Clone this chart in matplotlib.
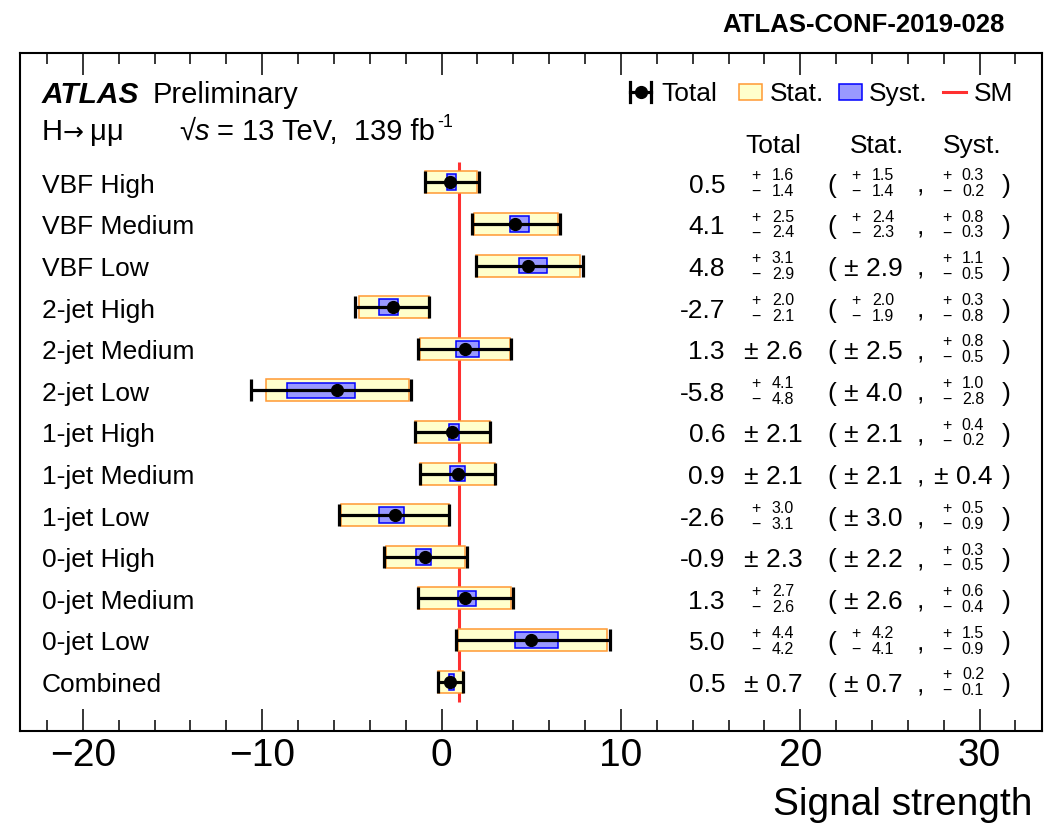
import matplotlib
matplotlib.use("Agg")
import matplotlib.pyplot as plt
from matplotlib.patches import Rectangle
from matplotlib.lines import Line2D
from matplotlib.ticker import MultipleLocator
from matplotlib.transforms import blended_transform_factory

plt.rcParams['font.family'] = ['Liberation Sans', 'DejaVu Sans']
plt.rcParams['mathtext.default'] = 'regular'

categories = ["VBF High", "VBF Medium", "VBF Low",
	"2-jet High", "2-jet Medium", "2-jet Low",
	"1-jet High", "1-jet Medium", "1-jet Low",
	"0-jet High", "0-jet Medium", "0-jet Low", "Combined"]
mu      = [0.5, 4.1, 4.8, -2.7, 1.3, -5.8, 0.6, 0.9, -2.6, -0.9, 1.3, 5.0, 0.5]
tot_up  = [1.6, 2.5, 3.1, 2.0, 2.6, 4.1, 2.1, 2.1, 3.0, 2.3, 2.7, 4.4, 0.7]
tot_dn  = [1.4, 2.4, 2.9, 2.1, 2.6, 4.8, 2.1, 2.1, 3.1, 2.3, 2.6, 4.2, 0.7]
stat_up = [1.5, 2.4, 2.9, 2.0, 2.5, 4.0, 2.1, 2.1, 3.0, 2.2, 2.6, 4.2, 0.7]
stat_dn = [1.4, 2.3, 2.9, 1.9, 2.5, 4.0, 2.1, 2.1, 3.0, 2.2, 2.6, 4.1, 0.7]
syst_up = [0.3, 0.8, 1.1, 0.3, 0.8, 1.0, 0.4, 0.4, 0.5, 0.3, 0.6, 1.5, 0.2]
syst_dn = [0.2, 0.3, 0.5, 0.8, 0.5, 2.8, 0.2, 0.4, 0.9, 0.5, 0.4, 0.9, 0.1]
sm_value = 1.0

W, H = 1044, 828
def fx(x): return x / W
def fy(y): return 1 - y / H

fig = plt.figure(figsize=(W/100, H/100), dpi=100)
ax = fig.add_axes([fx(20), fy(732), fx(1041.5) - fx(20), fy(54) - fy(732)])

rows = list(range(len(categories)))

# SM line behind everything
ax.vlines(sm_value, -0.5, 12.5, color='#ff3030', lw=2.2, zorder=0.5)

stat_left = [m - d for m, d in zip(mu, stat_dn)]
stat_w = [u + d for u, d in zip(stat_up, stat_dn)]
ax.barh(rows, stat_w, left=stat_left, height=0.53, color='#ffffcc',
	edgecolor='#ff9933', lw=1.1, zorder=1)
syst_left = [m - d for m, d in zip(mu, syst_dn)]
syst_w = [u + d for u, d in zip(syst_up, syst_dn)]
ax.barh(rows, syst_w, left=syst_left, height=0.377, color='#9999ff',
	edgecolor='#0000ff', lw=1.1, zorder=2)
ax.errorbar(mu, rows, xerr=[tot_dn, tot_up], fmt='o', color='k', ms=8.5,
	elinewidth=2.3, capsize=7.9, capthick=2.3, zorder=3)

ax.set_xlim(-23.5, 33.45)
ax.set_ylim(13.185, -3.108)
ax.set_yticks([])
ax.xaxis.set_major_locator(MultipleLocator(10))
ax.xaxis.set_minor_locator(MultipleLocator(2))
ax.tick_params(which='both', direction='in', top=True, bottom=True, width=1.1)
ax.tick_params(which='major', length=15.8, labelsize=28, pad=4)
ax.tick_params(which='minor', length=7.9)
for s in ax.spines.values():
	s.set_linewidth(1.5)

tr = blended_transform_factory(fig.transFigure, ax.transData)
big, small = 19, 11.5

def put_err(i, up, dn, center_x, sign_x, num_x):
	if up == dn:
		ax.text(fx(center_x), i + 0.225, "± %.1f" % up, transform=tr,
			fontsize=big, ha='center', va='baseline')
	else:
		ax.text(fx(sign_x), i - 0.08, "+", transform=tr, fontsize=small, ha='center', va='baseline')
		ax.text(fx(num_x), i - 0.08, "%.1f" % up, transform=tr, fontsize=small, ha='center', va='baseline')
		ax.text(fx(sign_x), i + 0.30, "−", transform=tr, fontsize=small, ha='center', va='baseline')
		ax.text(fx(num_x), i + 0.30, "%.1f" % dn, transform=tr, fontsize=small, ha='center', va='baseline')

for i in rows:
	ax.text(fx(42), i + 0.225, categories[i], transform=tr, fontsize=big, ha='left', va='baseline')
	ax.text(fx(725), i + 0.225, "%.1f" % mu[i], transform=tr, fontsize=big, ha='right', va='baseline')
	put_err(i, tot_up[i], tot_dn[i], 773, 756, 783)
	ax.text(fx(832), i + 0.225, "(", transform=tr, fontsize=big, ha='center', va='baseline')
	put_err(i, stat_up[i], stat_dn[i], 873, 856, 883)
	ax.text(fx(920), i + 0.225, ",", transform=tr, fontsize=big, ha='center', va='baseline')
	put_err(i, syst_up[i], syst_dn[i], 963, 947, 973)
	ax.text(fx(1006), i + 0.225, ")", transform=tr, fontsize=big, ha='center', va='baseline')

# column headers
for name, x in [("Total", 773), ("Stat.", 877), ("Syst.", 972)]:
	fig.text(fx(x), fy(153), name, fontsize=big, ha='center', va='baseline')

# ATLAS label
fig.text(fx(42), fy(103), "ATLAS", fontsize=21.5, fontweight='bold', fontstyle='italic', va='baseline')
fig.text(fx(153), fy(103), "Preliminary", fontsize=21, va='baseline')
fig.text(fx(42), fy(140), "H", fontsize=21, va='baseline')
fig.text(fx(63), fy(140), "→", fontsize=18, family='DejaVu Sans', va='baseline')
fig.text(fx(90), fy(140), "μμ", fontsize=21, va='baseline')
fig.text(fx(179), fy(140), "√", fontsize=21, va='baseline')
fig.text(fx(195), fy(140), "s", fontsize=21, fontstyle='italic', va='baseline')
fig.text(fx(217), fy(140), "= 13 TeV,  139 fb", fontsize=21, va='baseline')
fig.text(fx(437), fy(127), "-1", fontsize=13, va='baseline')

fig.text(fx(1005), fy(31.7), "ATLAS-CONF-2019-028", fontsize=18.5, fontweight='bold', ha='right', va='baseline')
fig.text(fx(1032), fy(815), "Signal strength", fontsize=28, ha='right', va='baseline')

# legend
ly = 93
fig.add_artist(Line2D([fx(630), fx(651)], [fy(ly), fy(ly)], color='k', lw=2.3, transform=fig.transFigure))
for cx in (630, 651):
	fig.add_artist(Line2D([fx(cx), fx(cx)], [fy(83), fy(103)], color='k', lw=2.3, transform=fig.transFigure))
fig.add_artist(Line2D([fx(640.5)], [fy(ly)], marker='o', ms=8.5, color='k', transform=fig.transFigure))
fig.text(fx(661), fy(101), "Total", fontsize=big, va='baseline')
fig.add_artist(Rectangle((fx(739), fy(101)), fx(761.7) - fx(739), fy(85) - fy(101),
	facecolor='#ffffcc', edgecolor='#ff9933', lw=1.1, transform=fig.transFigure))
fig.text(fx(770), fy(101), "Stat.", fontsize=big, va='baseline')
fig.add_artist(Rectangle((fx(839), fy(101)), fx(862) - fx(839), fy(85) - fy(101),
	facecolor='#9999ff', edgecolor='#0000ff', lw=1.1, transform=fig.transFigure))
fig.text(fx(869), fy(101), "Syst.", fontsize=big, va='baseline')
fig.add_artist(Line2D([fx(943), fx(966)], [fy(ly), fy(ly)], color='#ff3030', lw=2.2, transform=fig.transFigure))
fig.text(fx(974), fy(101), "SM", fontsize=big, va='baseline')

fig.savefig('out.png', dpi=100)
